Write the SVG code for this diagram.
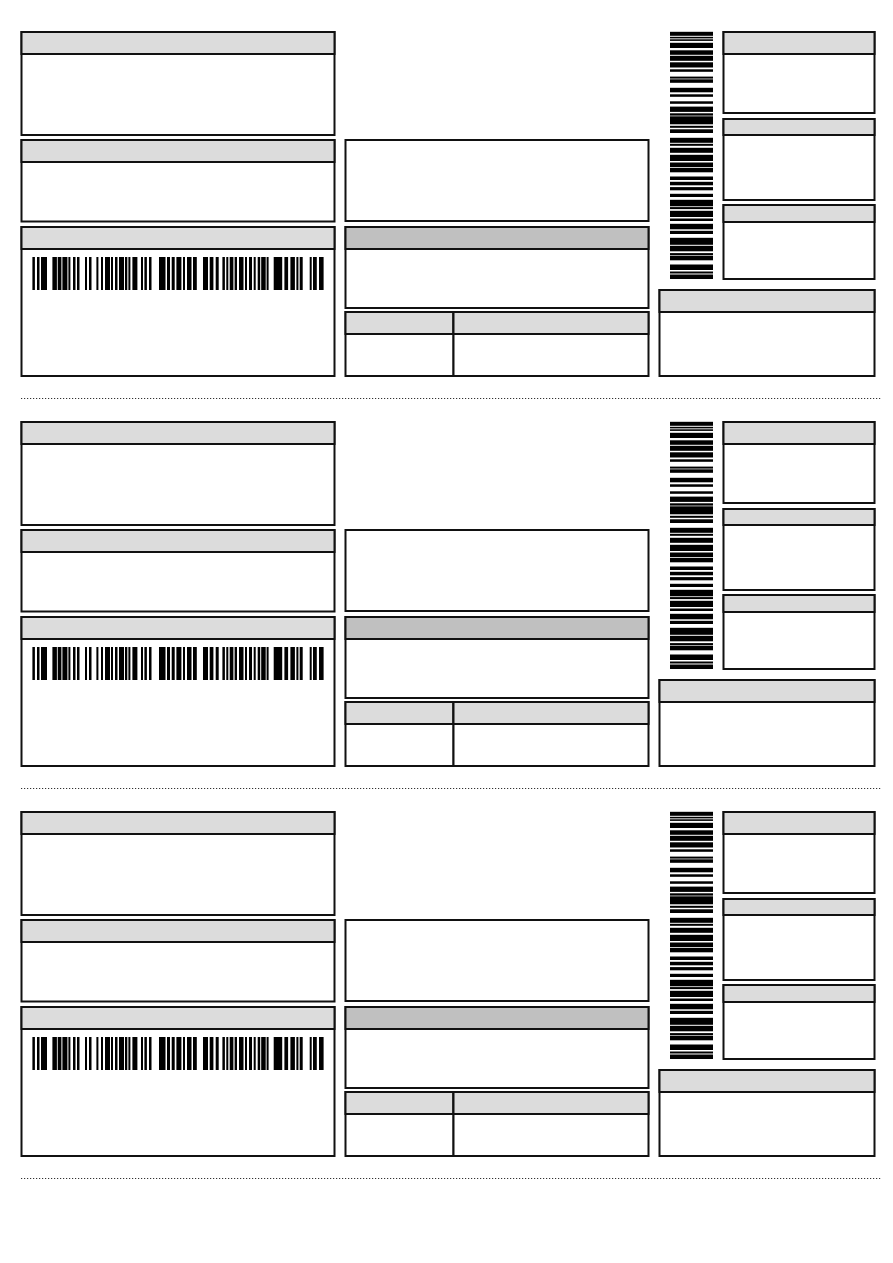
<svg xmlns="http://www.w3.org/2000/svg" xmlns:xlink="http://www.w3.org/1999/xlink" width="893" height="1263" viewBox="0 0 893 1263">
<style>
.b{fill:#ffffff;stroke:#111111;stroke-width:2}
.h{fill:#dcdcdc;stroke:#111111;stroke-width:2}
.hd{fill:#c0c0c0;stroke:#111111;stroke-width:2}
.bar{fill:#000000}
.dot{stroke:#333333;stroke-width:1.2;stroke-dasharray:1.2 1.8;fill:none}
</style>
<defs>
<g id="hbar" class="bar">
<rect x="32.4" y="257" width="2.5" height="33"/><rect x="37" y="257" width="2.5" height="33"/><rect x="41" y="257" width="6" height="33"/><rect x="52.4" y="257" width="4.5" height="33"/><rect x="57.7" y="257" width="3.7" height="33"/><rect x="62.4" y="257" width="5" height="33"/><rect x="68.4" y="257" width="2" height="33"/><rect x="73" y="257" width="2.5" height="33"/><rect x="77" y="257" width="2.5" height="33"/><rect x="85" y="257" width="2" height="33"/><rect x="89" y="257" width="2.5" height="33"/><rect x="96.4" y="257" width="2" height="33"/><rect x="101" y="257" width="2" height="33"/><rect x="105" y="257" width="5" height="33"/><rect x="111" y="257" width="2" height="33"/><rect x="115" y="257" width="2.5" height="33"/><rect x="119" y="257" width="5" height="33"/><rect x="125" y="257" width="2.3" height="33"/><rect x="128.4" y="257" width="2" height="33"/><rect x="132.4" y="257" width="5" height="33"/><rect x="141" y="257" width="2" height="33"/><rect x="144.4" y="257" width="2.5" height="33"/><rect x="149" y="257" width="2.5" height="33"/><rect x="159" y="257" width="6.5" height="33"/><rect x="167" y="257" width="3" height="33"/><rect x="171.7" y="257" width="3" height="33"/><rect x="176.4" y="257" width="5" height="33"/><rect x="183" y="257" width="2" height="33"/><rect x="187" y="257" width="4.5" height="33"/><rect x="193" y="257" width="3.8" height="33"/><rect x="203" y="257" width="5" height="33"/><rect x="209.7" y="257" width="3.7" height="33"/><rect x="215.7" y="257" width="3" height="33"/><rect x="222.4" y="257" width="2.5" height="33"/><rect x="226.3" y="257" width="2" height="33"/><rect x="229.7" y="257" width="3.7" height="33"/><rect x="234.6" y="257" width="2.4" height="33"/><rect x="239" y="257" width="4.5" height="33"/><rect x="245" y="257" width="2" height="33"/><rect x="249" y="257" width="3" height="33"/><rect x="253.7" y="257" width="2" height="33"/><rect x="257.7" y="257" width="2.5" height="33"/><rect x="261.2" y="257" width="4.5" height="33"/><rect x="266.6" y="257" width="2" height="33"/><rect x="273.7" y="257" width="8.5" height="33"/><rect x="284.4" y="257" width="3.7" height="33"/><rect x="290.4" y="257" width="4.5" height="33"/><rect x="296.4" y="257" width="2" height="33"/><rect x="299.7" y="257" width="3" height="33"/><rect x="309.7" y="257" width="2" height="33"/><rect x="313" y="257" width="3.8" height="33"/><rect x="319" y="257" width="4.6" height="33"/>
</g>
<g id="vbar" class="bar">
<rect x="670" y="31.8" width="43" height="4"/><rect x="670" y="36.8" width="43" height="1.6"/><rect x="670" y="39.3" width="43" height="1.6"/><rect x="670" y="42.8" width="43" height="5.2"/><rect x="670" y="50.3" width="43" height="4.5"/><rect x="670" y="55.8" width="43" height="5"/><rect x="670" y="62.3" width="43" height="5.2"/><rect x="670" y="69.3" width="43" height="2.5"/><rect x="670" y="76.6" width="43" height="2"/><rect x="670" y="79.3" width="43" height="3.5"/><rect x="670" y="87.8" width="43" height="4.5"/><rect x="670" y="94.3" width="43" height="2.5"/><rect x="670" y="101.3" width="43" height="2.5"/><rect x="670" y="106.6" width="43" height="5.3"/><rect x="670" y="113.3" width="43" height="2.3"/><rect x="670" y="116.3" width="43" height="8"/><rect x="670" y="125.8" width="43" height="2"/><rect x="670" y="129.3" width="43" height="3.7"/><rect x="670" y="137.8" width="43" height="5"/><rect x="670" y="143.8" width="43" height="2"/><rect x="670" y="147.8" width="43" height="5"/><rect x="670" y="154.8" width="43" height="6.2"/><rect x="670" y="162.5" width="43" height="4.5"/><rect x="670" y="167.8" width="43" height="4.5"/><rect x="670" y="176.5" width="43" height="3.5"/><rect x="670" y="181.8" width="43" height="3.5"/><rect x="670" y="187.1" width="43" height="3.2"/><rect x="670" y="193.8" width="43" height="3.2"/><rect x="670" y="199.8" width="43" height="6.5"/><rect x="670" y="207.1" width="43" height="2"/><rect x="670" y="210.8" width="43" height="6.2"/><rect x="670" y="218.5" width="43" height="2.5"/><rect x="670" y="223.8" width="43" height="5.5"/><rect x="670" y="230.8" width="43" height="3.2"/><rect x="670" y="237.8" width="43" height="7"/><rect x="670" y="245.8" width="43" height="5.5"/><rect x="670" y="253.1" width="43" height="2.2"/><rect x="670" y="255.9" width="43" height="4.4"/><rect x="670" y="264.5" width="43" height="5.5"/><rect x="670" y="271.5" width="43" height="2"/><rect x="670" y="274.5" width="43" height="4.5"/>
</g>
</defs>
<rect x="0" y="0" width="893" height="1263" fill="#ffffff"/>

<g id="panel1">
<g id="p1-box1"><rect class="b" x="21.5" y="32" width="313" height="103"/><rect class="h" x="21.5" y="32" width="313" height="22"/></g>
<g id="p1-box2"><rect class="b" x="21.5" y="140" width="313" height="81.5"/><rect class="h" x="21.5" y="140" width="313" height="22"/></g>
<g id="p1-box3"><rect class="b" x="21.5" y="227" width="313" height="149"/><rect class="h" x="21.5" y="227" width="313" height="22"/><use xlink:href="#hbar" href="#hbar"/></g>
<g id="p1-boxA"><rect class="b" x="345.5" y="140" width="303" height="81"/></g>
<g id="p1-boxB"><rect class="b" x="345.5" y="227" width="303" height="81"/><rect class="hd" x="345.5" y="227" width="303" height="22"/></g>
<g id="p1-boxC1"><rect class="b" x="345.5" y="312" width="108" height="64"/><rect class="h" x="345.5" y="312" width="108" height="22"/></g>
<g id="p1-boxC2"><rect class="b" x="453.5" y="312" width="195" height="64"/><rect class="h" x="453.5" y="312" width="195" height="22"/></g>
<g id="p1-vbarcode"><use xlink:href="#vbar" href="#vbar"/></g>
<g id="p1-boxR1"><rect class="b" x="723.5" y="32" width="151" height="81"/><rect class="h" x="723.5" y="32" width="151" height="22"/></g>
<g id="p1-boxR2"><rect class="b" x="723.5" y="119" width="151" height="81"/><rect class="h" x="723.5" y="119" width="151" height="16"/></g>
<g id="p1-boxR3"><rect class="b" x="723.5" y="205" width="151" height="74"/><rect class="h" x="723.5" y="205" width="151" height="17"/></g>
<g id="p1-boxR4"><rect class="b" x="659.5" y="290" width="215" height="86"/><rect class="h" x="659.5" y="290" width="215" height="22"/></g>
</g>

<g id="panel2" transform="translate(0,390)">
<g id="p2-box1"><rect class="b" x="21.5" y="32" width="313" height="103"/><rect class="h" x="21.5" y="32" width="313" height="22"/></g>
<g id="p2-box2"><rect class="b" x="21.5" y="140" width="313" height="81.5"/><rect class="h" x="21.5" y="140" width="313" height="22"/></g>
<g id="p2-box3"><rect class="b" x="21.5" y="227" width="313" height="149"/><rect class="h" x="21.5" y="227" width="313" height="22"/><use xlink:href="#hbar" href="#hbar"/></g>
<g id="p2-boxA"><rect class="b" x="345.5" y="140" width="303" height="81"/></g>
<g id="p2-boxB"><rect class="b" x="345.5" y="227" width="303" height="81"/><rect class="hd" x="345.5" y="227" width="303" height="22"/></g>
<g id="p2-boxC1"><rect class="b" x="345.5" y="312" width="108" height="64"/><rect class="h" x="345.5" y="312" width="108" height="22"/></g>
<g id="p2-boxC2"><rect class="b" x="453.5" y="312" width="195" height="64"/><rect class="h" x="453.5" y="312" width="195" height="22"/></g>
<g id="p2-vbarcode"><use xlink:href="#vbar" href="#vbar"/></g>
<g id="p2-boxR1"><rect class="b" x="723.5" y="32" width="151" height="81"/><rect class="h" x="723.5" y="32" width="151" height="22"/></g>
<g id="p2-boxR2"><rect class="b" x="723.5" y="119" width="151" height="81"/><rect class="h" x="723.5" y="119" width="151" height="16"/></g>
<g id="p2-boxR3"><rect class="b" x="723.5" y="205" width="151" height="74"/><rect class="h" x="723.5" y="205" width="151" height="17"/></g>
<g id="p2-boxR4"><rect class="b" x="659.5" y="290" width="215" height="86"/><rect class="h" x="659.5" y="290" width="215" height="22"/></g>
</g>

<g id="panel3" transform="translate(0,780)">
<g id="p3-box1"><rect class="b" x="21.5" y="32" width="313" height="103"/><rect class="h" x="21.5" y="32" width="313" height="22"/></g>
<g id="p3-box2"><rect class="b" x="21.5" y="140" width="313" height="81.5"/><rect class="h" x="21.5" y="140" width="313" height="22"/></g>
<g id="p3-box3"><rect class="b" x="21.5" y="227" width="313" height="149"/><rect class="h" x="21.5" y="227" width="313" height="22"/><use xlink:href="#hbar" href="#hbar"/></g>
<g id="p3-boxA"><rect class="b" x="345.5" y="140" width="303" height="81"/></g>
<g id="p3-boxB"><rect class="b" x="345.5" y="227" width="303" height="81"/><rect class="hd" x="345.5" y="227" width="303" height="22"/></g>
<g id="p3-boxC1"><rect class="b" x="345.5" y="312" width="108" height="64"/><rect class="h" x="345.5" y="312" width="108" height="22"/></g>
<g id="p3-boxC2"><rect class="b" x="453.5" y="312" width="195" height="64"/><rect class="h" x="453.5" y="312" width="195" height="22"/></g>
<g id="p3-vbarcode"><use xlink:href="#vbar" href="#vbar"/></g>
<g id="p3-boxR1"><rect class="b" x="723.5" y="32" width="151" height="81"/><rect class="h" x="723.5" y="32" width="151" height="22"/></g>
<g id="p3-boxR2"><rect class="b" x="723.5" y="119" width="151" height="81"/><rect class="h" x="723.5" y="119" width="151" height="16"/></g>
<g id="p3-boxR3"><rect class="b" x="723.5" y="205" width="151" height="74"/><rect class="h" x="723.5" y="205" width="151" height="17"/></g>
<g id="p3-boxR4"><rect class="b" x="659.5" y="290" width="215" height="86"/><rect class="h" x="659.5" y="290" width="215" height="22"/></g>
</g>

<g id="cut-lines">
<line class="dot" x1="21" y1="398.5" x2="881" y2="398.5"/>
<line class="dot" x1="21" y1="788.5" x2="881" y2="788.5"/>
<line class="dot" x1="21" y1="1178.5" x2="881" y2="1178.5"/>
</g>
</svg>
